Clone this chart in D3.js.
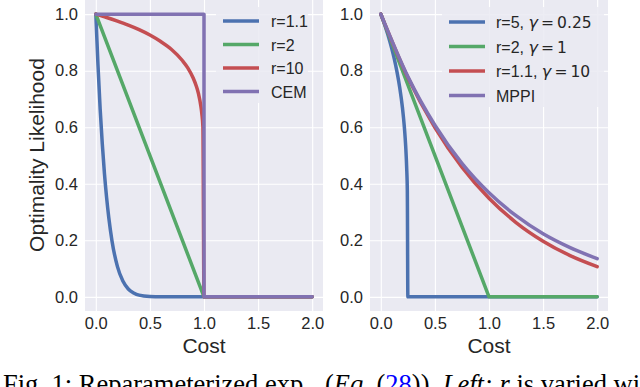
<!DOCTYPE html>
<html>
<head>
<meta charset="utf-8">
<script src="https://cdn.jsdelivr.net/npm/d3@7"></script>
<style>
  body { margin: 0; background: #fff; }
  svg { display: block; }
</style>
</head>
<body>
<div id="chart"></div>
<script>
// values: [cost, likelihood]
var leftR11 = [[0,1],[0.02,0.82],[0.04,0.665],[0.06,0.54],[0.08,0.435],[0.1,0.35],[0.12,0.28],[0.15,0.197],
  [0.2,0.107],[0.25,0.056],[0.3,0.028],[0.35,0.014],[0.4,0.006],[0.5,0.001],[0.6,0],[1,0],[2,0]];
var leftR2 = [[0,1],[1,0],[2,0]];
var leftR10 = [[0,1],[0.1,0.988],[0.2,0.975],[0.3,0.961],[0.4,0.945],[0.5,0.926],[0.6,0.903],[0.7,0.875],
  [0.8,0.836],[0.85,0.81],[0.9,0.774],[0.93,0.744],[0.95,0.717],[0.97,0.677],[0.98,0.647],[0.99,0.6],[1,0],[2,0]];
var leftCEM = [[0,1],[1,1],[1,0],[2,0]];

var rightR5 = [[0,1],[0.025,0.974],[0.05,0.946],[0.075,0.915],[0.1,0.88],[0.125,0.841],[0.15,0.795],
  [0.175,0.74],[0.2,0.669],[0.21,0.632],[0.22,0.589],[0.23,0.532],[0.24,0.447],[0.245,0.376],[0.25,0],[2,0]];
var rightR2 = [[0,1],[1,0],[2,0]];
var rightR11 = [[0,1],[0.25,0.776],[0.5,0.599],[0.75,0.459],[1,0.349],[1.25,0.263],[1.5,0.197],[1.75,0.146],[2,0.107]];
var rightMPPI = [[0,1],[0.25,0.779],[0.5,0.607],[0.75,0.472],[1,0.368],[1.25,0.287],[1.5,0.223],[1.75,0.174],[2,0.135]];

var xTicks = [0, 0.5, 1, 1.5, 2];
var yTicks = [0, 0.2, 0.4, 0.6, 0.8, 1];
var leftLabels = ["r=1.1", "r=2", "r=10", "CEM"];
var rightLabels = [["r=5, ", "0.25"], ["r=2, ", "1"], ["r=1.1, ", "10"], ["MPPI", null]];

var colors = ["#4C72B0", "#55A868", "#C44E52", "#8172B2"];
var bg = "#EAEAF2", ink = "#262626";
var sans = "'Liberation Sans', Arial, sans-serif";

var svg = d3.select("#chart").append("svg")
    .attr("width", 640)
    .attr("height", 387);

var y = d3.scaleLinear().domain([-0.05, 1.05]).range([311, 0]);

function panel(x0, x1, series, smooth) {
  var x = d3.scaleLinear().domain([-0.1, 2.1]).range([x0, x1]);
  var g = svg.append("g");

  g.append("rect")
      .attr("x", x0).attr("y", 0)
      .attr("width", x1 - x0).attr("height", 311)
      .attr("fill", bg);

  // white grid, no tick marks (seaborn darkgrid)
  var xAxis = g.append("g")
      .attr("transform", "translate(0,311)")
      .call(d3.axisBottom(x).tickValues(xTicks).tickFormat(d3.format(".1f")).tickSize(-311).tickPadding(10));
  var yAxis = g.append("g")
      .attr("transform", "translate(" + x0 + ",0)")
      .call(d3.axisLeft(y).tickValues(yTicks).tickFormat(d3.format(".1f")).tickSize(-(x1 - x0)).tickPadding(7));
  [xAxis, yAxis].forEach(function(a) {
    a.select(".domain").remove();
    a.selectAll("line").attr("stroke", "#fff").attr("stroke-width", 1.1);
    a.selectAll("text").attr("fill", ink).attr("font-family", sans).attr("font-size", 16.5);
  });
  xAxis.selectAll("text").attr("dy", "0.5em");

  var line = d3.line().x(function(d) { return x(d[0]); }).y(function(d) { return y(d[1]); });
  series.forEach(function(s, i) {
    g.append("path")
        .datum(s)
        .attr("fill", "none")
        .attr("stroke", colors[i])
        .attr("stroke-width", 3.5)
        .attr("stroke-linejoin", "round")
        .attr("stroke-linecap", "round")
        .attr("d", line.curve(smooth[i] ? d3.curveMonotoneX : d3.curveLinear));
  });

  g.append("text")
      .attr("x", (x(0) + x(2)) / 2)
      .attr("y", 353)
      .attr("text-anchor", "middle")
      .attr("font-family", sans)
      .attr("font-size", 21)
      .attr("fill", ink)
      .text("Cost");
  return g;
}

var left = panel(85, 323, [leftR11, leftR2, leftR10, leftCEM], [true, false, true, false]);
var right = panel(370, 608, [rightR5, rightR2, rightR11, rightMPPI], [true, false, true, true]);

svg.append("text")
    .attr("transform", "translate(44,155) rotate(-90)")
    .attr("text-anchor", "middle")
    .attr("font-family", sans)
    .attr("font-size", 21)
    .attr("fill", ink)
    .text("Optimality Likelihood");

// legends
function legend(g, bx, by, bw, bh, lx, tx, rows) {
  g.append("rect")
      .attr("x", bx).attr("y", by).attr("width", bw).attr("height", bh)
      .attr("fill", bg).attr("opacity", 0.85);
  rows.forEach(function(r, i) {
    g.append("line")
        .attr("x1", lx).attr("x2", lx + 36)
        .attr("y1", r.y).attr("y2", r.y)
        .attr("stroke", colors[i]).attr("stroke-width", 3.5);
    var t = g.append("text")
        .attr("x", tx).attr("y", r.y + 6)
        .attr("font-family", sans)
        .attr("font-size", 16)
        .attr("fill", ink);
    t.append("tspan").text(r.label[0]);
    if (r.label[1] !== null) {
      t.append("tspan").attr("font-family", "'DejaVu Sans', sans-serif").attr("font-style", "italic").text("\u03b3");
      t.append("tspan").attr("font-family", "'DejaVu Sans', sans-serif").attr("font-size", 15.5).text("\u2009=\u2009" + r.label[1]);
    }
  });
}

legend(left, 216, 7, 92, 96, 223, 271,
  [21, 44.5, 68, 91.5].map(function(v, i) { return {y: v, label: [leftLabels[i], null]}; }));
legend(right, 442, 7, 162, 100, 449, 496,
  [22, 46.5, 71, 95.5].map(function(v, i) { return {y: v, label: rightLabels[i]}; }));

// caption (cut off at the bottom of the image, as in the source figure)
var cap = svg.append("text")
    .attr("y", 393)
    .attr("font-family", "'Liberation Serif', 'Times New Roman', serif")
    .attr("font-size", 26.5)
    .attr("fill", "#000");
cap.append("tspan").attr("x", 3).text("Fig. 1: Reparameterized exp");
cap.append("tspan").attr("x", 325).text("(");
cap.append("tspan").attr("font-style", "italic").text("Eq.");
cap.append("tspan").text(" (");
cap.append("tspan").attr("fill", "#0000ff").text("28");
cap.append("tspan").text(")). ");
cap.append("tspan").attr("font-style", "italic").text("Left:");
cap.append("tspan").text(" ");
cap.append("tspan").attr("font-style", "italic").text("r");
cap.append("tspan").text(" is varied with");
</script>
</body>
</html>
